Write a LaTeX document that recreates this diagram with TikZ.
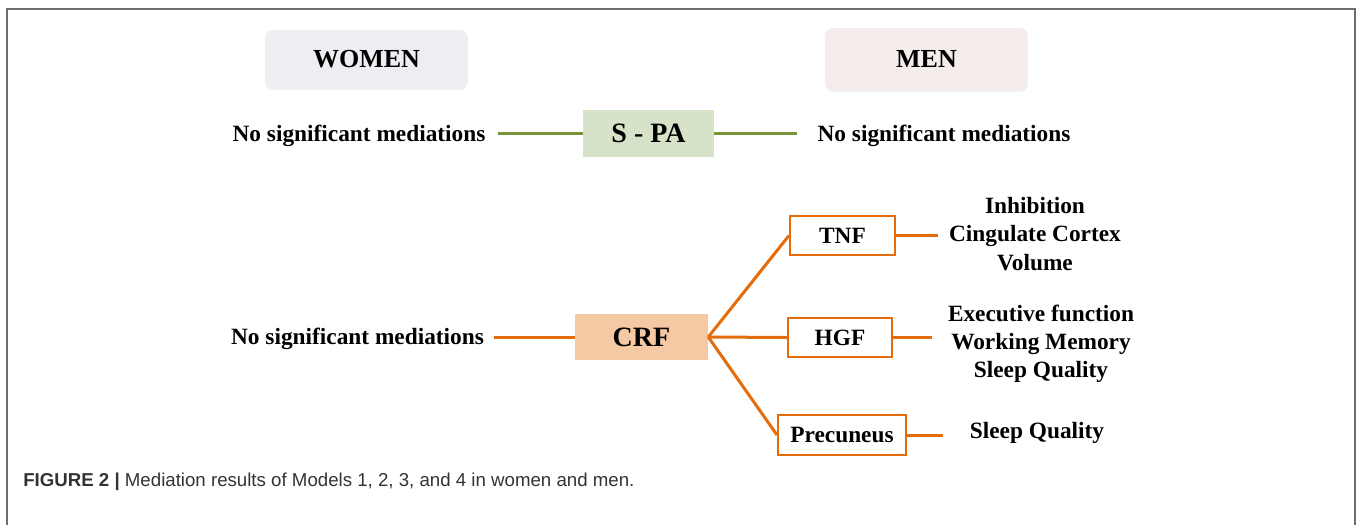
\documentclass[tikz,border=0pt]{standalone}
\usepackage{fontspec}
\setmainfont{Liberation Serif}
\newfontfamily\capfont{Liberation Sans}
\usetikzlibrary{shadows}
\definecolor{framegray}{HTML}{6E6E6E}
\definecolor{womenfill}{HTML}{EEEDF2}
\definecolor{menfill}{HTML}{F5ECEC}
\definecolor{spafill}{HTML}{D7E3C8}
\definecolor{spaline}{HTML}{77933C}
\definecolor{crffill}{HTML}{F6C9A5}
\definecolor{orangeline}{HTML}{E46C0A}
\definecolor{capgray}{HTML}{333333}
\begin{document}
\begin{tikzpicture}[x=0.75pt,y=-0.75pt,
  lbl/.style={font=\fontsize{17.5pt}{21.2pt}\selectfont\bfseries, align=center, inner sep=0pt},
  sexbox/.style={rounded corners=6pt, minimum width=152pt, inner sep=0pt,
    font=\fontsize{19.5pt}{23pt}\selectfont\bfseries,
    drop shadow={shadow xshift=0pt, shadow yshift=-1.5pt, opacity=0.10}},
  medbox/.style={inner sep=0pt, font=\fontsize{21pt}{25pt}\selectfont\bfseries},
  outbox/.style={draw=orangeline, line width=1.5pt, fill=white, inner sep=0pt,
    font=\fontsize{17.5pt}{21pt}\selectfont\bfseries},
  greenline/.style={draw=spaline, line width=2.25pt},
  orline/.style={draw=orangeline, line width=2.25pt},
]
\useasboundingbox (0,0) rectangle (1360,525);
% frame
\draw[framegray, line width=1.5pt] (7,525) -- (7,9) -- (1355,9) -- (1355,525);

% header boxes
\node[sexbox, fill=womenfill, minimum height=43.5pt] (women) at (366.5,59) {WOMEN};
\node[sexbox, fill=menfill, minimum height=46.5pt] (men) at (926.5,59) {MEN};

% S-PA row
\node[medbox, fill=spafill, minimum width=98.25pt, minimum height=35.25pt] (spa) at (648.5,133.5) {S - PA};
\node[lbl] (spaw) at (359,136) {No significant mediations};
\node[lbl] (spam) at (944,136) {No significant mediations};
\draw[greenline, shorten <=9pt] (spaw.east |- spa.west) -- (spa.west);
\draw[greenline, shorten >=15pt] (spa.east) -- (spa.east -| spam.west);

% CRF row
\node[medbox, fill=crffill, minimum width=99.75pt, minimum height=34.5pt] (crf) at (641.5,337) {CRF};
\node[lbl] (crfw) at (357.5,339) {No significant mediations};
\draw[orline, shorten <=7.5pt] (crfw.east |- crf.west) -- (crf.west);

\node[outbox, minimum width=78.75pt, minimum height=29.25pt] (tnf) at (842.5,235.5) {TNF};
\node[outbox, minimum width=78pt, minimum height=29.25pt] (hgf) at (840,337.5) {HGF};
\node[outbox, minimum width=96pt, minimum height=30pt] (prec) at (842,435) {Precuneus};

\draw[orline] (crf.east) -- (tnf.west);
\draw[orline] (crf.east) -- (hgf.west);
\draw[orline] (crf.east) -- (prec.west);

\node[lbl] (out1) at (1035,234) {Inhibition\\Cingulate Cortex\\Volume};
\node[lbl] (out2) at (1041,344) {Executive function\\Working Memory\\Sleep Quality};
\node[lbl] (out3) at (1037,433) {Sleep Quality};

\draw[orline, shorten >=8pt] (tnf.east) -- (tnf.east -| out1.west);
\draw[orline, shorten >=12pt] (hgf.east) -- (hgf.east -| out2.west);
\draw[orline, shorten >=20pt] (prec.east) -- (prec.east -| out3.west);

% caption
\node[anchor=base west, inner sep=0pt, text=capgray, font=\capfont\fontsize{14pt}{16pt}\selectfont] (cap) at (23,486)
  {\textbf{FIGURE 2 \textbar{}} Mediation results of Models 1, 2, 3, and 4 in women and men.};
\end{tikzpicture}
\end{document}
